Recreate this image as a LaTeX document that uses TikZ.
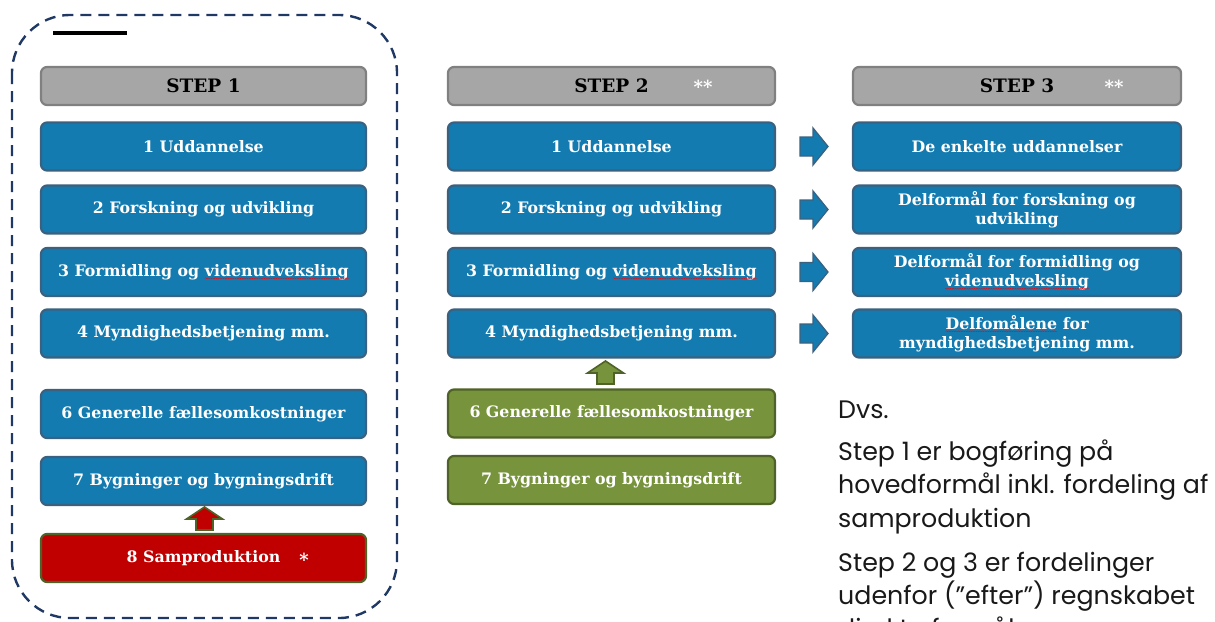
\documentclass[tikz,border=0pt]{standalone}
\usepackage{fontspec}
\newfontfamily\boxfont{DejaVu Serif}
\newfontfamily\gothfont{Poppins}
\usetikzlibrary{calc,decorations.pathmorphing}
\definecolor{boxblue}{HTML}{147BB0}
\definecolor{boxblueedge}{HTML}{3B6180}
\definecolor{hdrgray}{HTML}{A6A6A6}
\definecolor{hdredge}{HTML}{808080}
\definecolor{boxgreen}{HTML}{77933C}
\definecolor{greenedge}{HTML}{4F6228}
\definecolor{boxred}{HTML}{C00000}
\definecolor{navy}{HTML}{1F3864}
\newcommand\squig[1]{\tikz[baseline=(w.base)]{\node[rectangle,draw=none,fill=none,inner sep=0pt,outer sep=0pt,minimum width=0pt,minimum height=0pt,sharp corners](w){#1};\draw[red,line width=0.35pt,fill=none,sharp corners,decorate,decoration={snake,amplitude=0.5pt,segment length=2.4pt}]([yshift=-2pt]w.base west)--([yshift=-2pt]w.base east);}}
\tikzset{
  boxbase/.style={rectangle, rounded corners=6pt, line width=2.2pt, minimum height=48pt, inner sep=2pt,
    font=\boxfont\bfseries\fontsize{15.8}{19}\selectfont, text=white, align=center},
  bluebox/.style={boxbase, fill=boxblue, draw=boxblueedge},
  greenbox/.style={boxbase, fill=boxgreen, draw=greenedge},
  redbox/.style={boxbase, fill=boxred, draw=greenedge},
  hdrbox/.style={boxbase, fill=hdrgray, draw=hdredge, minimum height=38pt, text=black, font=\boxfont\bfseries\fontsize{18.5}{20}\selectfont},
  col1/.style={minimum width=325pt},
  col2/.style={minimum width=327pt},
  col3/.style={minimum width=328pt},
  stars/.style={text=white, font=\boxfont\bfseries\fontsize{18}{18}\selectfont, inner sep=0pt},
  rarrow/.style={fill=boxblue, draw=boxblueedge, line width=1.3pt, line join=miter},
  garrow/.style={fill=boxgreen, draw=greenedge, line width=1.6pt},
  redarrow/.style={fill=boxred, draw=greenedge, line width=1.6pt},
  gothtext/.style={anchor=base west, inner sep=0pt, font=\gothfont\fontsize{25.3}{28}\selectfont, text=black!90},
}
\newcommand\rightarr[1]{\draw[rarrow, shift={(#1)}] (-14,-9.5) -- (-1,-9.5) -- (-1,-18.5) -- (14,0) -- (-1,18.5) -- (-1,9.5) -- (-14,9.5) -- cycle;}
\newcommand\uparr[2]{\draw[#2, shift={(#1)}] (0,-11.5) -- (18,0.5) -- (8.5,0.5) -- (8.5,11.5) -- (-8.5,11.5) -- (-8.5,0.5) -- (-18,0.5) -- cycle;}
\begin{document}
\begin{tikzpicture}[x=1pt,y=-1pt]
\useasboundingbox (0,0) rectangle (1215,621);
\clip (0,0) rectangle (1215,621);
% dashed frame
\draw[navy, line width=2.4pt, dash pattern=on 11pt off 7pt, rounded corners=58pt] (12,15) rectangle (397,618);
\draw[black, line width=4pt] (53,33) -- (127,33);
% column 1
\node[hdrbox,col1] (h1) at (203.5,86) {STEP 1};
\node[bluebox,col1] (a1) at (203.5,146.5) {1 Uddannelse};
\node[bluebox,col1] (a2) at (203.5,209.5) {2 Forskning og udvikling};
\node[bluebox,col1] (a3) at (203.5,272) {3 Formidling og \squig{videnudveksling}};
\node[bluebox,col1] (a4) at (203.5,333.5) {4 Myndighedsbetjening mm.};
\node[bluebox,col1] (a6) at (203.5,414) {6 Generelle fællesomkostninger};
\node[bluebox,col1] (a7) at (203.5,481) {7 Bygninger og bygningsdrift};
\node[redbox,col1] (a8) at (203.5,558) {8 Samproduktion};
\node[stars] (st1) at (304,560) {*};
% column 2
\node[hdrbox,col2] (h2) at (611.5,86) {STEP 2};
\node[stars] (st2) at (703,87) {**};
\node[bluebox,col2] (b1) at (611.5,146.5) {1 Uddannelse};
\node[bluebox,col2] (b2) at (611.5,209.5) {2 Forskning og udvikling};
\node[bluebox,col2] (b3) at (611.5,272) {3 Formidling og \squig{videnudveksling}};
\node[bluebox,col2] (b4) at (611.5,333.5) {4 Myndighedsbetjening mm.};
\node[greenbox,col2] (b6) at (611.5,413.5) {6 Generelle fællesomkostninger};
\node[greenbox,col2] (b7) at (611.5,480) {7 Bygninger og bygningsdrift};
% column 3
\node[hdrbox,col3] (h3) at (1017,86) {STEP 3};
\node[stars] (st3) at (1114,87) {**};
\node[bluebox,col3] (c1) at (1017,146.5) {De enkelte uddannelser};
\node[bluebox,col3] (c2) at (1017,209.5) {Delformål for forskning og\\udvikling};
\node[bluebox,col3] (c3) at (1017,272) {Delformål for formidling og\\\squig{videnudveksling}};
\node[bluebox,col3] (c4) at (1017,333.5) {\squig{Delfomålene} for\\myndighedsbetjening mm.};
% arrows
\coordinate (r1) at ($(b1.east)!0.5!(c1.west)$);
\coordinate (r2) at ($(b2.east)!0.5!(c2.west)$);
\coordinate (r3) at ($(b3.east)!0.5!(c3.west)$);
\coordinate (r4) at ($(b4.east)!0.5!(c4.west)$);
\rightarr{r1}\rightarr{r2}\rightarr{r3}\rightarr{r4}
\coordinate (ug) at ($(b4.south)!0.5!(b6.north)+(-6,-1)$);
\uparr{ug}{garrow}
\coordinate (ur) at ($(a7.south)!0.5!(a8.north)+(1,-1)$);
\uparr{ur}{redarrow}
% right text
\node[gothtext] (t1) at (838,418) {Dvs.};
\node[gothtext] (t2) at (838,460) {Step 1 er bogføring på};
\node[gothtext] (t3) at (838,493) {hovedformål inkl. fordeling af};
\node[gothtext] (t4) at (838,527) {samproduktion};
\node[gothtext] (t5) at (838,571) {Step 2 og 3 er fordelinger};
\node[gothtext] (t6) at (838,604) {udenfor (”efter”) regnskabet};
\node[gothtext] (t7) at (838,637) {direkte formål};
\end{tikzpicture}
\end{document}
